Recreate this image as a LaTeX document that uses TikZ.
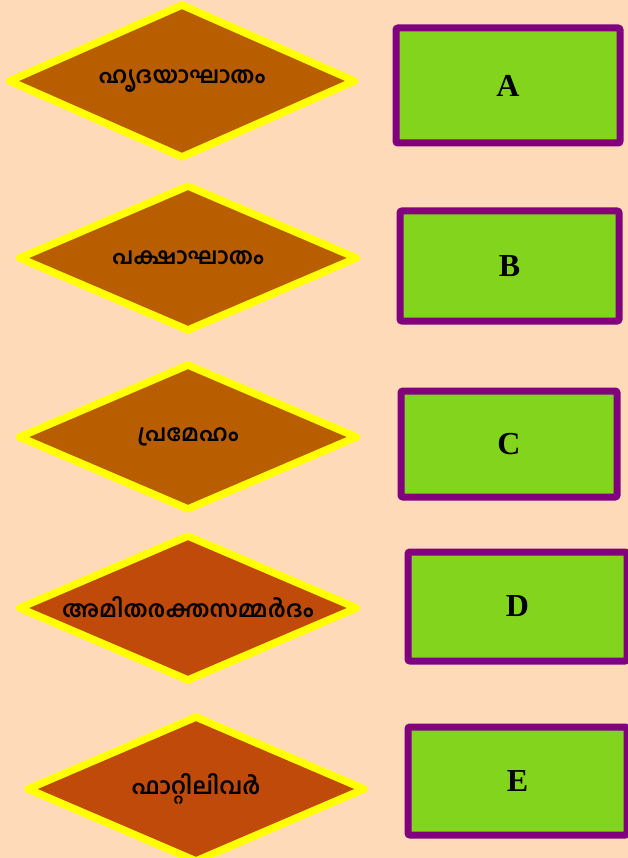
\documentclass[tikz,border=0pt]{standalone}
\usepackage{fontspec}
\setmainfont{Liberation Serif}
\newfontfamily\malfont[Script=Malayalam]{Hind Kochi}
\usetikzlibrary{shapes.geometric}

\definecolor{peachbg}{RGB}{255,218,185}
\definecolor{brownA}{RGB}{185,94,0}
\definecolor{brownB}{RGB}{191,74,10}
\definecolor{boxgreen}{RGB}{130,212,28}
\definecolor{boxpurple}{RGB}{128,0,128}
\definecolor{rimyellow}{RGB}{255,255,0}

\tikzset{
    disease/.style={diamond, draw=rimyellow, line width=7.5pt, line join=round,
        inner sep=0pt, font=\malfont\bfseries\fontsize{23}{26}\selectfont},
    letterbox/.style={rectangle, draw=boxpurple, fill=boxgreen, line width=7pt,
        rounded corners=2pt, inner sep=0pt, font=\bfseries\fontsize{32}{36}\selectfont}
}

\begin{document}
\begin{tikzpicture}[x=1pt, y=-1pt]
    \fill[peachbg] (0,0) rectangle (628,858);
    \useasboundingbox (0,0) rectangle (628,858);
    % diseases
    \foreach \nm/\cx/\cy/\dwid/\dhgt/\col/\txt in {
        heart/182/81/348/155/brownA/ഹൃദയാഘാതം,
        stroke/188/258/340/147/brownA/പക്ഷാഘാതം,
        diabetes/188/437/340/147/brownA/പ്രമേഹം,
        pressure/188/608/340/147/brownB/അമിതരക്തസമ്മർദം,
        liver/196/789/339/147/brownB/ഫാറ്റിലിവർ} {
        \pgfmathsetmacro{\asp}{\dwid/\dhgt}
        \node[disease, fill=\col, shape aspect=\asp,
            minimum width=\dwid pt, minimum height=\dhgt pt]
            (\nm) at (\cx,\cy) {\raisebox{1pt}{\txt}};
    }
    % answer boxes
    \foreach \nm/\cx/\cy/\bw/\bh/\lab in {
        boxA/508/85.5/224/115/A,
        boxB/509.5/266/219/110/B,
        boxC/509/444/216/106/C,
        boxD/517.5/606.5/219/109/D,
        boxE/517.5/781/219/108/E} {
        \node[letterbox, minimum width=\bw pt, minimum height=\bh pt]
            (\nm) at (\cx,\cy) {\lab};
    }
\end{tikzpicture}
\end{document}
